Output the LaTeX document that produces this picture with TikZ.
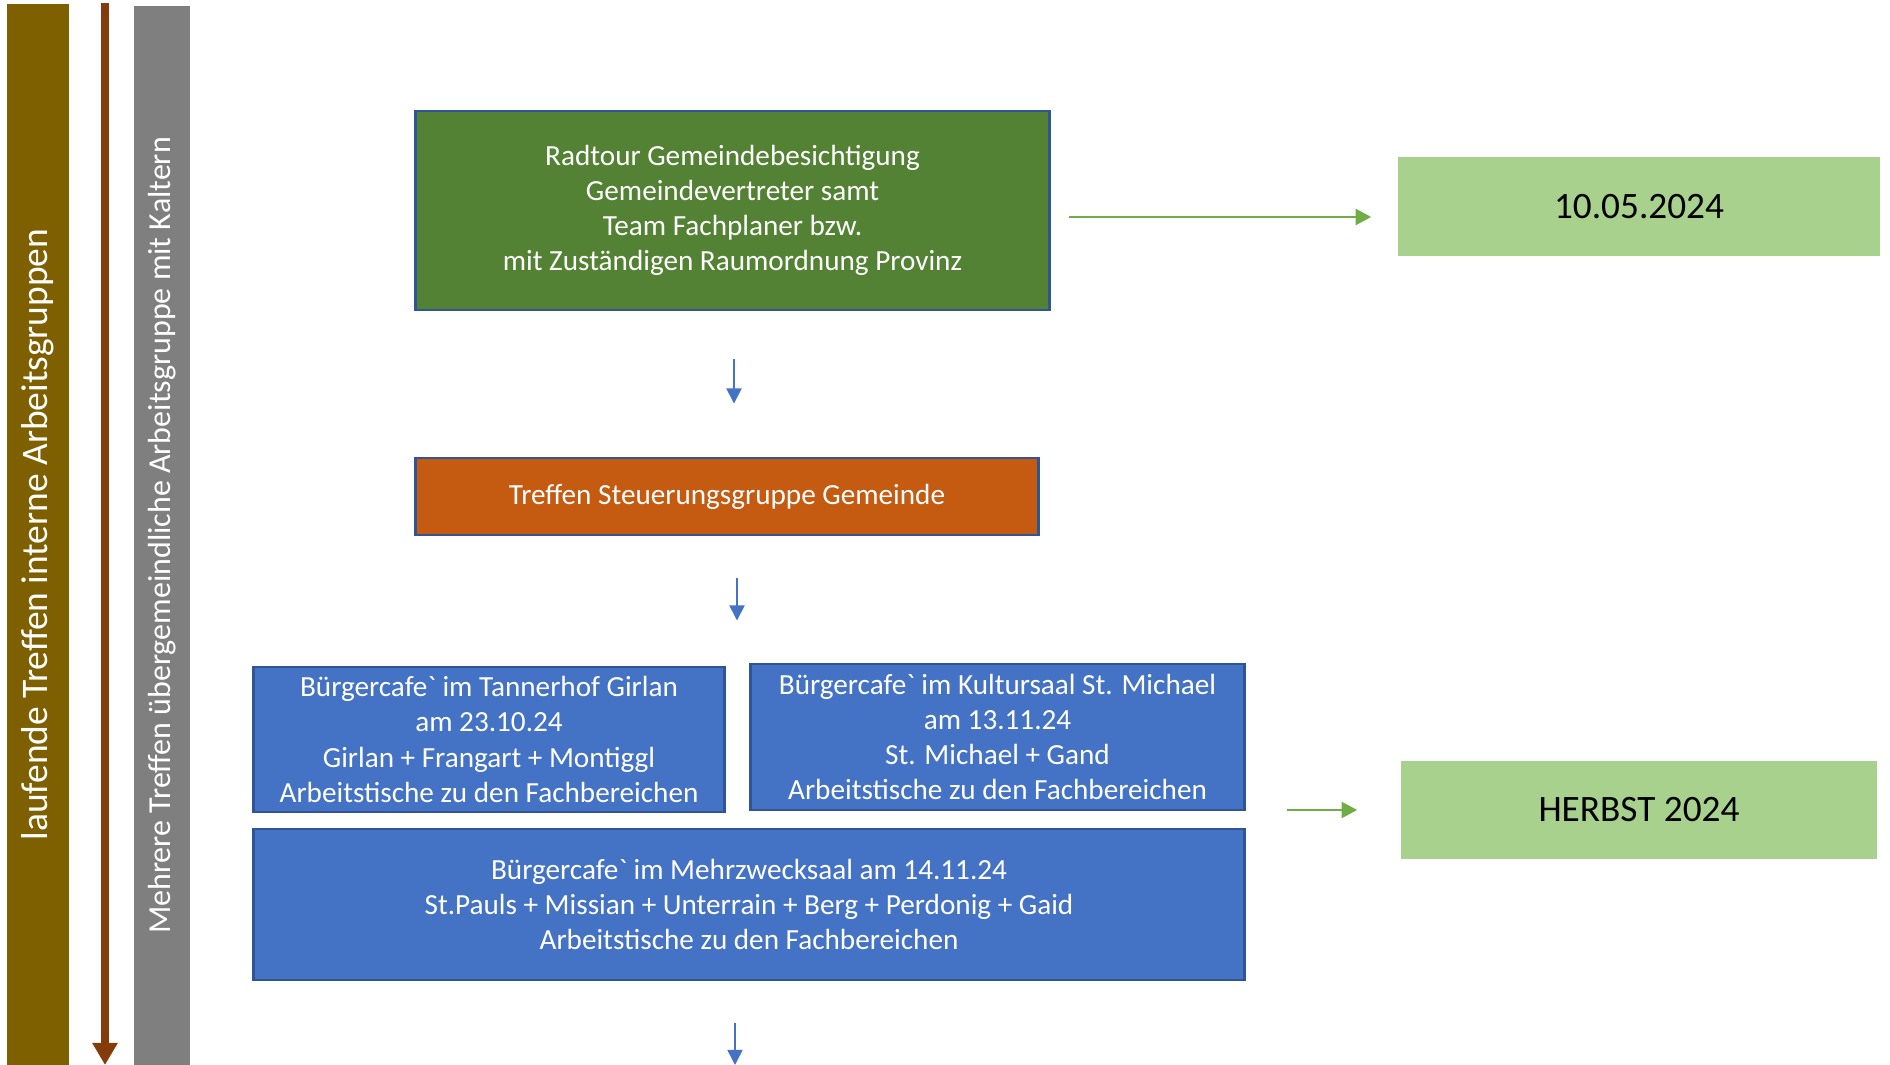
\documentclass[tikz,border=0pt]{standalone}
\usepackage{fontspec}
\setmainfont{Carlito}[Ligatures=TeXOff]
\usetikzlibrary{arrows.meta}

\begin{document}
\begin{tikzpicture}[x=0.01cm, y=-0.01cm,
  box/.style={draw=rahmen, line width=0.8pt, text=white, align=center, inner sep=0pt,
    font=\fontsize{8.3}{10}\selectfont},
  datum/.style={fill=hellgruen, inner sep=0pt, font=\fontsize{10.6}{12}\selectfont},
  balken/.style={rotate=90, text=white, inner sep=0pt},
  ablauf/.style={draw=blau, line width=0.45pt, -{Triangle[width=4.3pt,length=4.3pt]}},
  termin/.style={draw=gruen, line width=0.5pt, -{Triangle[width=4.6pt,length=4.4pt]}}]

% Colors
\definecolor{oliv}{RGB}{127,96,0}
\definecolor{braun}{RGB}{132,60,12}
\definecolor{grau}{RGB}{127,127,127}
\definecolor{dunkelgruen}{RGB}{84,130,53}
\definecolor{rahmen}{RGB}{47,85,151}
\definecolor{orange}{RGB}{197,90,17}
\definecolor{blau}{RGB}{68,114,196}
\definecolor{hellgruen}{RGB}{169,209,142}
\definecolor{gruen}{RGB}{112,173,71}

\useasboundingbox (0,0) rectangle (1890,1065);

% Side bars
\node[balken, fill=oliv, minimum width=10.61cm, minimum height=0.62cm,
  font=\fontsize{10.65}{12}\selectfont] (laufend) at (38,534.5)
  {laufende Treffen interne Arbeitsgruppen};
\node[balken, fill=grau, minimum width=10.59cm, minimum height=0.56cm,
  font=\fontsize{9.1}{11}\selectfont] (kaltern) at (162,535.5)
  {Mehrere Treffen übergemeindliche Arbeitsgruppe mit Kaltern};

\coordinate (oben) at (105,3);
\coordinate (unten) at (105,1065);
\draw[braun, line width=0.08cm, -{Triangle[width=0.24cm,length=0.22cm]}] (oben) -- (unten);

% Boxes
\node[box, fill=dunkelgruen, minimum width=6.33cm, minimum height=1.99cm] (radtour) at (732.5,210.5)
  {Radtour Gemeindebesichtigung\\Gemeindevertreter samt\\Team Fachplaner bzw.\\mit Zuständigen Raumordnung Provinz};
\node[box, fill=orange, minimum width=6.22cm, minimum height=0.77cm] (steuer) at (727,496.5)
  {Treffen Steuerungsgruppe Gemeinde};
\node[box, fill=blau, minimum width=4.70cm, minimum height=1.45cm] (cafeA) at (489,739.5)
  {Bürgercafe` im Tannerhof Girlan\\am 23.10.24\\Girlan + Frangart + Montiggl\\Arbeitstische zu den Fachbereichen};
\node[box, fill=blau, minimum width=4.93cm, minimum height=1.46cm] (cafeB) at (997.5,737)
  {Bürgercafe` im Kultursaal St. Michael\\am 13.11.24\\St. Michael + Gand\\Arbeitstische zu den Fachbereichen};
\node[box, fill=blau, minimum width=9.90cm, minimum height=1.51cm] (cafeC) at (749,904.5)
  {Bürgercafe` im Mehrzwecksaal am 14.11.24\\St.Pauls + Missian + Unterrain + Berg + Perdonig + Gaid\\Arbeitstische zu den Fachbereichen};

% Dates
\node[datum, minimum width=4.82cm, minimum height=0.99cm] (datum1) at (1639,206.5) {10.05.2024};
\node[datum, minimum width=4.76cm, minimum height=0.98cm] (herbst) at (1639,810) {HERBST 2024};

% Arrows
\coordinate (ende) at (735,1065);
\draw[ablauf, shorten <=0.48cm, shorten >=0.53cm] ([xshift=0.015cm]radtour.south) -- ([xshift=0.015cm]radtour.south |- steuer.north);
\draw[ablauf, shorten <=0.42cm, shorten >=0.42cm] ([xshift=0.1cm]steuer.south) -- ([xshift=0.1cm]steuer.south |- cafeB.north);
\draw[ablauf, shorten <=0.42cm] (cafeC.south -| ende) -- (ende);

\draw[termin, shorten <=0.18cm, shorten >=0.26cm] ([yshift=-0.065cm]radtour.east) -- ([yshift=-0.065cm]radtour.east -| datum1.west);
\draw[termin, shorten <=0.41cm, shorten >=0.43cm] (herbst.west -| cafeB.east) -- (herbst.west);

\end{tikzpicture}
\end{document}
